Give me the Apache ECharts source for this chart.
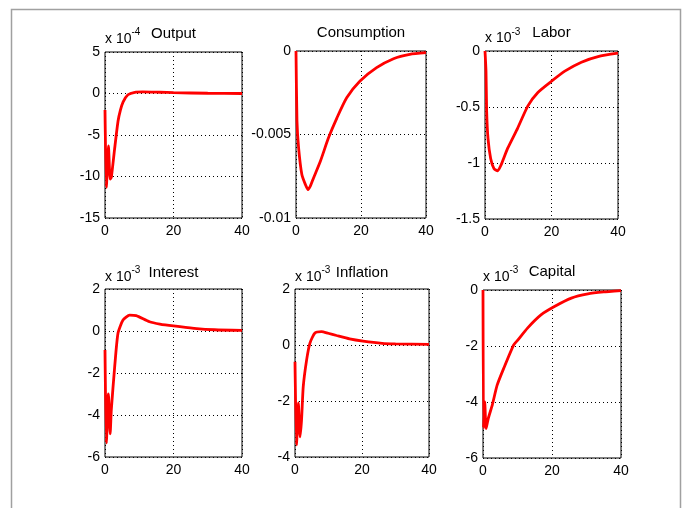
<!DOCTYPE html>
<html>
<head>
<meta charset="utf-8">
<script src="https://cdn.jsdelivr.net/npm/echarts@6/dist/echarts.min.js"></script>
<style>
html,body{margin:0;padding:0;background:#fff;}
#chart{width:690px;height:508px;}
</style>
</head>
<body>
<div id="chart"></div>
<script>
// ---- data ----
const xTicks = [0, 20, 40];

const outputT = [0, 0.4, 1.0, 1.5, 1.85, 2.8, 3.8, 4.5, 5.3, 6.7, 8.7, 11, 16, 20, 30, 40];
const outputY = [-2.0, -11.3, -6.3, -10.3, -10.1, -6.7, -3.35, -2.0, -1.0, -0.15, 0.15, 0.2, 0.15, 0.1, 0.03, 0];

const consT = [0, 0.3, 0.8, 1.8, 2.9, 3.7, 4.4, 5.4, 7.5, 10, 12.6, 15.6, 19.7, 24.8, 30, 35, 40];
const consY = [0, -0.0042, -0.0058, -0.0074, -0.008, -0.0083, -0.0081, -0.0076, -0.0066, -0.0052, -0.004, -0.0028, -0.0018, -0.001, -0.00046, -0.0002, -0.0001];

const laborT = [0, 0.3, 0.5, 0.9, 1.7, 2.7, 3.8, 4.8, 6.8, 9.8, 12.9, 15.9, 20, 24, 29, 34, 40];
const laborY = [0, -0.18, -0.54, -0.78, -0.96, -1.05, -1.07, -1.02, -0.87, -0.69, -0.49, -0.37, -0.27, -0.18, -0.1, -0.05, -0.02];

const interestT = [0, 0.4, 1.0, 1.5, 1.84, 2.83, 3.8, 5.26, 7.2, 9.1, 13, 16, 20, 26, 32, 40];
const interestY = [-0.9, -5.33, -3.0, -4.9, -3.76, -1.7, -0.1, 0.52, 0.76, 0.73, 0.44, 0.33, 0.24, 0.13, 0.06, 0.03];

const inflT = [0, 0.45, 1.0, 1.5, 1.95, 2.46, 3.46, 4.46, 5.95, 7.9, 9.9, 12.4, 16.3, 20.3, 26, 30, 40];
const inflY = [-0.6, -3.57, -2.07, -3.28, -2.68, -1.49, -0.54, 0.07, 0.43, 0.48, 0.42, 0.34, 0.22, 0.14, 0.06, 0.04, 0.02];

const capT = [0, 0.15, 0.5, 0.9, 1.5, 2.7, 4.1, 6.0, 8.9, 10, 12.9, 16.8, 20.7, 25.6, 30.4, 35, 40];
const capY = [0, -4.93, -4.0, -4.95, -4.6, -4.1, -3.4, -2.8, -1.96, -1.8, -1.36, -0.89, -0.59, -0.29, -0.14, -0.07, -0.02];

const titles = ['Output', 'Consumption', 'Labor', 'Interest', 'Inflation', 'Capital'];
const exponents = ['-4', null, '-3', '-3', '-3', '-3'];
const yMin = [-15, -0.01, -1.5, -6, -4, -6];
const yMax = [5, 0, 0, 2, 2, 0];
const yStep = [5, 0.005, 0.5, 2, 2, 2];

const seriesT = [outputT, consT, laborT, interestT, inflT, capT];
const seriesY = [outputY, consY, laborY, interestY, inflY, capY];

// ---- layout ----
const boxes = [
  {l: 105, t: 52, w: 137, h: 166},
  {l: 296, t: 51, w: 130, h: 167},
  {l: 485, t: 51, w: 133, h: 168},
  {l: 105, t: 289, w: 137, h: 168},
  {l: 295, t: 289, w: 134, h: 168},
  {l: 483, t: 290, w: 138, h: 168}
];
const titleY = [34, 32.5, 33, 273, 273, 272];
const expY = [39, 39, 38.6, 276.7, 276.7, 277];

const FONT = 'Liberation Sans, Arial, sans-serif';

const chart = echarts.init(document.getElementById('chart'));
const grid = [], xAxis = [], yAxis = [], series = [], graphic = [];

graphic.push({type: 'rect', shape: {x: 11.5, y: 9.5, width: 669, height: 520},
  style: {fill: null, stroke: '#a0a0a0', lineWidth: 1.5}, silent: true, z: 0});

boxes.forEach((b, i) => {
  grid.push({left: b.l, top: b.t, width: b.w, height: b.h, show: true,
    borderColor: '#000', borderWidth: 1, backgroundColor: '#fff'});
  xAxis.push({type: 'value', gridIndex: i, min: xTicks[0], max: xTicks[xTicks.length - 1],
    interval: xTicks[1] - xTicks[0],
    axisLine: {show: false}, axisTick: {show: false},
    axisLabel: {color: '#000', fontSize: 14, fontFamily: FONT, margin: 6},
    splitLine: {show: true, lineStyle: {color: '#000', width: 1, type: [1, 3]}}});
  yAxis.push({type: 'value', gridIndex: i, min: yMin[i], max: yMax[i], interval: yStep[i],
    axisLine: {show: false}, axisTick: {show: false},
    axisLabel: {color: '#000', fontSize: 14, fontFamily: FONT, margin: 5,
      formatter: v => String(parseFloat(v.toPrecision(6)))},
    splitLine: {show: true, lineStyle: {color: '#000', width: 1, type: [1, 3]}}});
  series.push({type: 'line', xAxisIndex: i, yAxisIndex: i, showSymbol: false, symbol: 'none',
    smooth: 0.2,
    data: seriesT[i].map((t, k) => [t, seriesY[i][k]]),
    lineStyle: {color: '#ff0000', width: 2.8}, clip: true, animation: false});
  graphic.push({type: 'text', x: b.l + b.w / 2, y: titleY[i], silent: true,
    style: {text: titles[i], fill: '#000', font: '15px ' + FONT,
      textAlign: 'center', textVerticalAlign: 'middle'}});
  if (exponents[i]) {
    graphic.push({type: 'text', x: b.l, y: expY[i], silent: true,
      style: {text: 'x 10', fill: '#000', font: '14px ' + FONT,
        textAlign: 'left', textVerticalAlign: 'middle'}});
    graphic.push({type: 'text', x: b.l + 26.5, y: expY[i] - 6.5, silent: true,
      style: {text: exponents[i], fill: '#000', font: '10px ' + FONT,
        textAlign: 'left', textVerticalAlign: 'middle'}});
  }
});

chart.setOption({animation: false, backgroundColor: '#fff', grid, xAxis, yAxis, series, graphic});
</script>
</body>
</html>
